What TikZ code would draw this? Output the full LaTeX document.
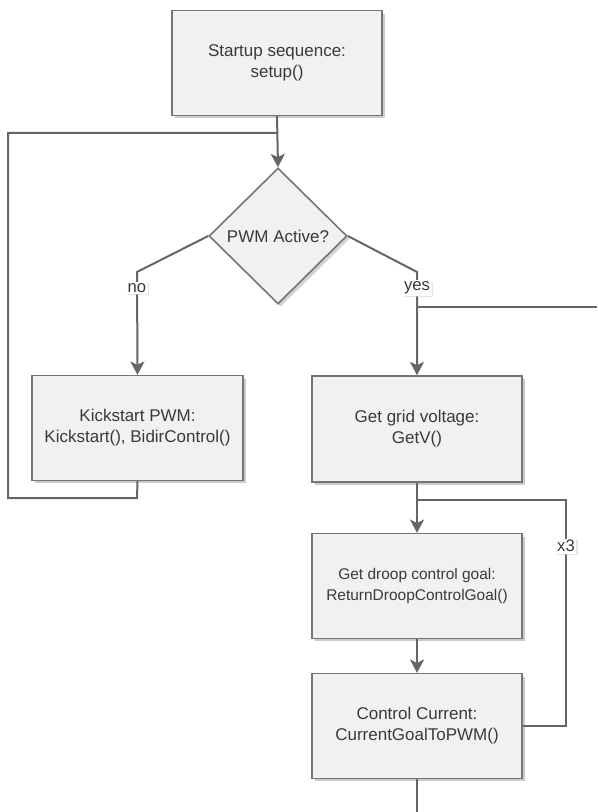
\documentclass[tikz,border=0pt]{standalone}
\usepackage{fontspec}
\setmainfont{Liberation Sans}
\usetikzlibrary{shapes.geometric,arrows.meta,shadows}
\definecolor{linegray}{HTML}{666666}
\definecolor{boxfill}{HTML}{F1F1F1}
\definecolor{boxborder}{HTML}{757575}
\definecolor{txt}{HTML}{3A3A3A}
\definecolor{shadowc}{HTML}{9AA0AC}
\tikzset{
  procbox/.style={draw=boxborder, line width=1.2pt, fill=boxfill, align=center,
    text=txt, minimum width=157.5pt, minimum height=78.5pt, inner sep=0pt,
    font=\fontsize{12.75}{15.75}\selectfont,
    drop shadow={shadow xshift=2pt, shadow yshift=-2.2pt, fill=shadowc, opacity=0.55}},
  decbox/.style={shape=diamond, aspect=1, draw=boxborder, line width=1.2pt, fill=boxfill,
    text=txt, minimum width=103.5pt, minimum height=102pt, inner sep=0pt,
    font=\fontsize{12.75}{15.75}\selectfont,
    drop shadow={shadow xshift=2pt, shadow yshift=-2.2pt, fill=shadowc, opacity=0.45}},
  conn/.style={draw=linegray, line width=1.5pt},
  arr/.style={conn, -{Stealth[length=10pt, width=10.5pt, inset=2.5pt]}},
  lbl/.style={fill=white, text=txt, inner sep=1.2pt, font=\fontsize{12.5}{14}\selectfont,
    drop shadow={shadow xshift=1pt, shadow yshift=-1pt, fill=gray!40, opacity=0.5}}
}
\begin{document}
\begin{tikzpicture}[x=0.75pt,y=-0.75pt]
\useasboundingbox (0,0) rectangle (597,812);
% nodes
\node[procbox] (start) at (277,63) {Startup sequence:\\setup()};
\node[decbox] (dec) at (278,236) {PWM Active?};
\node[procbox, minimum width=158.25pt] (kick) at (137.5,428) {Kickstart PWM:\\Kickstart(), BidirControl()};
\node[procbox, minimum height=79.5pt] (getv) at (417,429) {Get grid voltage:\\GetV()};
\node[procbox, font=\fontsize{11.6}{15.75}\selectfont] (droop) at (417,586) {Get droop control goal:\\ReturnDroopControlGoal()};
\node[procbox] (ctrl) at (417,726) {Control Current:\\CurrentGoalToPWM()};
% coordinates
\coordinate (jtop) at (277,133);
\coordinate (loopA) at (137,498);
\coordinate (loopB) at (8,498);
\coordinate (loopC) at (8,133);
\coordinate (noTurn) at (137,272);
\coordinate (yesTurn) at (417,272);
\coordinate (yesJ) at (417,307);
\coordinate (yesR) at (597,307);
\coordinate (jmid) at (417,500);
\coordinate (x3A) at (566,726);
\coordinate (x3B) at (566,500);
\coordinate (bot) at (417,812);
% connectors
\draw[arr] (start.south) -- (dec.north);
\draw[conn] (kick.south) -- (loopA) -- (loopB) -- (loopC) -- (jtop);
\draw[arr] (dec.west) -- (noTurn) -- (kick.north);
\draw[arr] (dec.east) -- (yesTurn) -- (getv.north);
\draw[conn] (yesJ) -- (yesR);
\draw[arr] (getv.south) -- (droop.north);
\draw[arr] (droop.south) -- (ctrl.north);
\draw[conn] (ctrl.east) -- (x3A) -- (x3B) -- (jmid);
\draw[conn] (ctrl.south) -- (bot);
% labels
\node[lbl] (nolab) at (137,288) {no};
\node[lbl] (yeslab) at (417,288) {yes};
\node[lbl] (x3lab) at (566,546) {x3};
\end{tikzpicture}
\end{document}
